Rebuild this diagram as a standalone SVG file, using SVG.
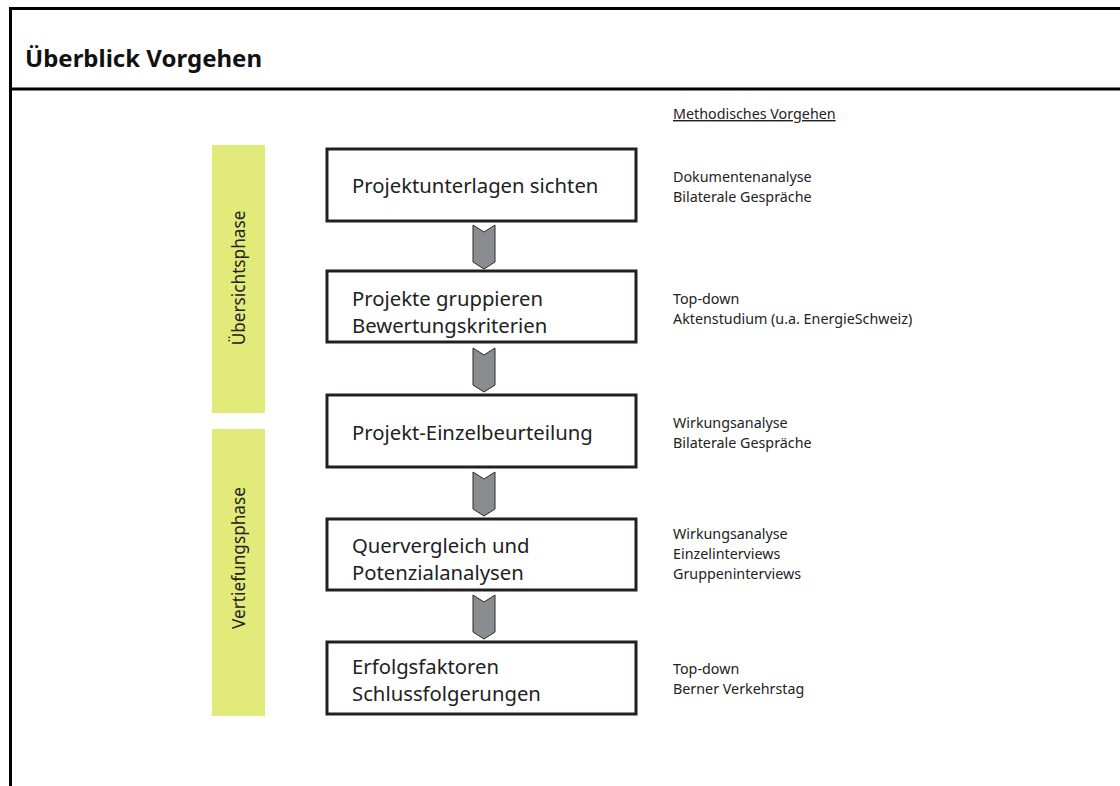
<svg xmlns="http://www.w3.org/2000/svg" width="1120" height="786" viewBox="0 0 1120 786">
<defs>
<style>
.frame{stroke:#000;stroke-width:3;fill:none}
.phase{fill:#e2ea7a}
.box{fill:#fff;stroke:#231f20;stroke-width:3}
.chev{fill:#8a8d90;stroke:#2b2b2b;stroke-width:1}
.title{font-family:"Noto Sans","DejaVu Sans",sans-serif;font-weight:bold;font-size:24px;fill:#111}
.bt{font-family:"Noto Sans","DejaVu Sans",sans-serif;font-size:20.3px;fill:#222}
.rt{font-family:"Noto Sans","DejaVu Sans",sans-serif;font-size:14.3px;fill:#222}
.vt{font-family:"Noto Sans","DejaVu Sans",sans-serif;font-size:17.2px;fill:#222}
</style>
</defs>
<rect width="1120" height="786" fill="#fff"/>
<g id="frame">
<line class="frame" x1="9" y1="8.5" x2="1120" y2="8.5"/>
<line class="frame" x1="10.5" y1="7" x2="10.5" y2="786"/>
<line class="frame" x1="9" y1="89" x2="1120" y2="89"/>
<text class="title" x="25" y="67">Überblick Vorgehen</text>
</g>
<g id="phase-uebersicht">
<rect class="phase" x="212" y="145" width="53" height="268"/>
<text class="vt" transform="translate(245,278) rotate(-90)" text-anchor="middle">Übersichtsphase</text>
</g>
<g id="phase-vertiefung">
<rect class="phase" x="212" y="429" width="53" height="287"/>
<text class="vt" transform="translate(245,558) rotate(-90)" text-anchor="middle">Vertiefungsphase</text>
</g>
<g id="connectors">
<polygon class="chev" points="473,225 484,232 495,225 495,262 484,269 473,262"/>
<polygon class="chev" points="473,348 484,355 495,348 495,385 484,392 473,385"/>
<polygon class="chev" points="473,472 484,479 495,472 495,509 484,516 473,509"/>
<polygon class="chev" points="473,595 484,602 495,595 495,632 484,639 473,632"/>
</g>
<g id="node1">
<rect class="box" x="327" y="149" width="309" height="72"/>
<text class="bt" x="352" y="193">Projektunterlagen sichten</text>
</g>
<g id="node2">
<rect class="box" x="327" y="271" width="309" height="71"/>
<text class="bt" x="352" y="306">Projekte gruppieren</text>
<text class="bt" x="352" y="333">Bewertungskriterien</text>
</g>
<g id="node3">
<rect class="box" x="327" y="395" width="309" height="72"/>
<text class="bt" x="352" y="440">Projekt-Einzelbeurteilung</text>
</g>
<g id="node4">
<rect class="box" x="327" y="519" width="309" height="71"/>
<text class="bt" x="352" y="553">Quervergleich und</text>
<text class="bt" x="352" y="580">Potenzialanalysen</text>
</g>
<g id="node5">
<rect class="box" x="327" y="642" width="309" height="72"/>
<text class="bt" x="352" y="674">Erfolgsfaktoren</text>
<text class="bt" x="352" y="701">Schlussfolgerungen</text>
</g>
<g id="methods">
<text class="rt" x="673" y="119" text-decoration="underline">Methodisches Vorgehen</text>
<text class="rt" x="673" y="182">Dokumentenanalyse</text>
<text class="rt" x="673" y="202">Bilaterale Gespräche</text>
<text class="rt" x="673" y="304">Top-down</text>
<text class="rt" x="673" y="324">Aktenstudium (u.a. EnergieSchweiz)</text>
<text class="rt" x="673" y="428">Wirkungsanalyse</text>
<text class="rt" x="673" y="448">Bilaterale Gespräche</text>
<text class="rt" x="673" y="539">Wirkungsanalyse</text>
<text class="rt" x="673" y="559">Einzelinterviews</text>
<text class="rt" x="673" y="579">Gruppeninterviews</text>
<text class="rt" x="673" y="674">Top-down</text>
<text class="rt" x="673" y="694">Berner Verkehrstag</text>
</g>
</svg>
